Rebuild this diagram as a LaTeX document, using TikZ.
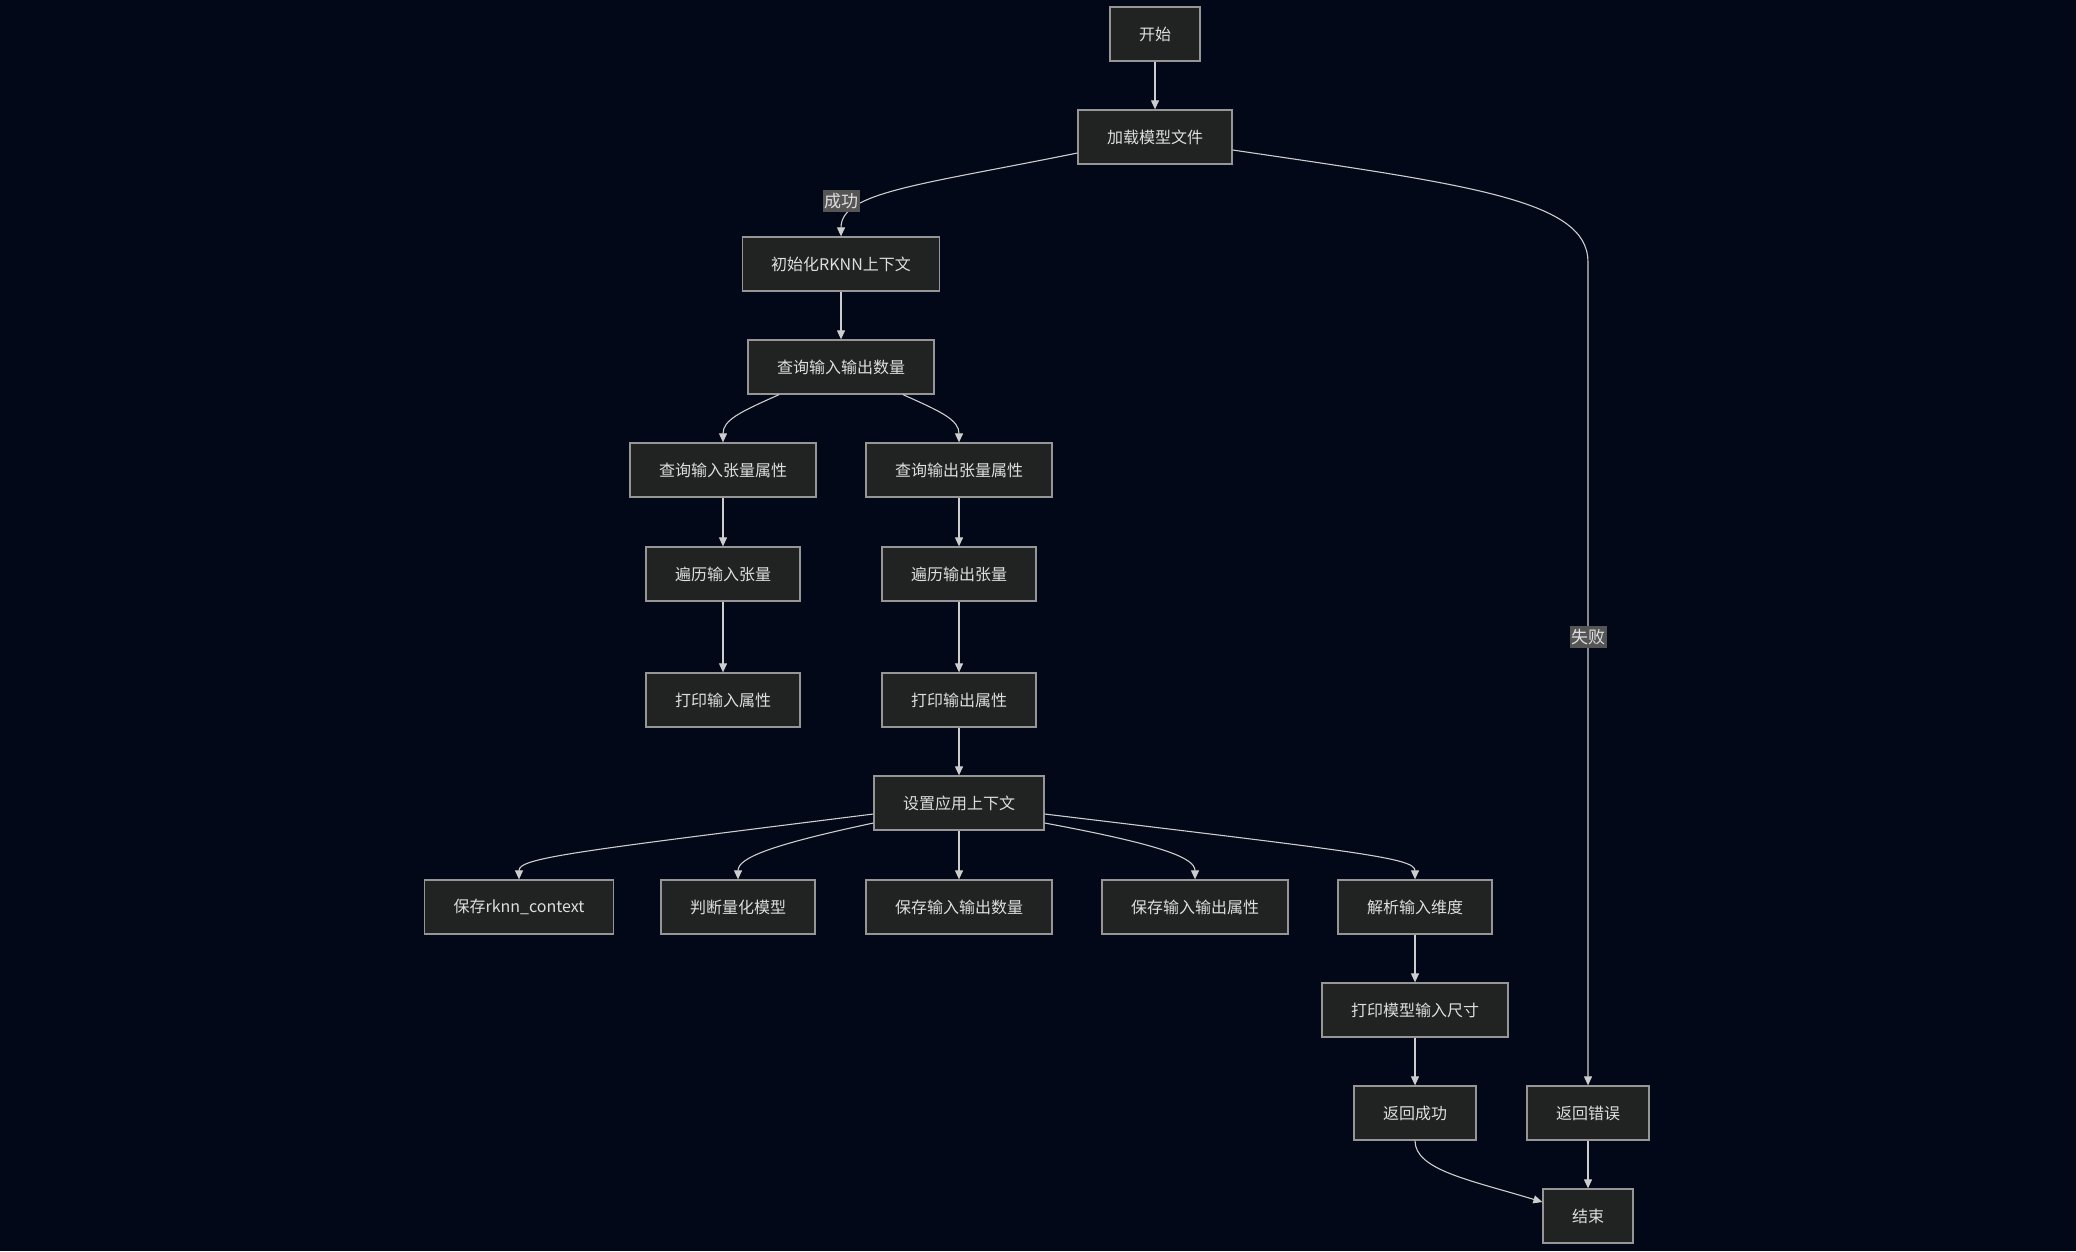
\documentclass[tikz,border=0pt]{standalone}
\usepackage{fontspec}
\setmainfont{Noto Sans CJK SC}
\usetikzlibrary{arrows.meta}
\definecolor{bgc}{RGB}{2,8,23}
\definecolor{boxfill}{RGB}{33,34,34}
\definecolor{boxline}{RGB}{150,150,150}
\definecolor{txtc}{RGB}{222,222,222}
\definecolor{edgec}{RGB}{205,205,205}
\definecolor{lblfill}{RGB}{85,85,85}
\tikzset{
  stepbox/.style={draw=boxline, fill=boxfill, line width=1.3pt, text=txtc,
    font=\fontsize{16}{18}\selectfont, minimum height=54pt, inner xsep=29pt, inner ysep=0pt},
  flow/.style={draw=edgec, line width=1.1pt, -{Triangle[length=9pt,width=8pt]}},
  elabel/.style={fill=lblfill, text=txtc, font=\fontsize{17}{19}\selectfont, inner xsep=1.5pt, inner ysep=3pt}
}
\begin{document}
\begin{tikzpicture}[x=1pt,y=-1pt]
\useasboundingbox[fill=bgc] (0,0) rectangle (2076,1251);
\node[stepbox] (start) at (1155,34) {开始};
\node[stepbox] (load) at (1155,137) {加载模型文件};
\node[stepbox] (init) at (841,264) {初始化RKNN上下文};
\node[stepbox] (qcount) at (841,367) {查询输入输出数量};
\node[stepbox] (qin) at (723,470) {查询输入张量属性};
\node[stepbox] (qout) at (959,470) {查询输出张量属性};
\node[stepbox] (tin) at (723,574) {遍历输入张量};
\node[stepbox] (tout) at (959,574) {遍历输出张量};
\node[stepbox] (pin) at (723,700) {打印输入属性};
\node[stepbox] (pout) at (959,700) {打印输出属性};
\node[stepbox] (setctx) at (959,803) {设置应用上下文};
\node[stepbox] (s1) at (519,907) {保存rknn\_context};
\node[stepbox] (s2) at (738,907) {判断量化模型};
\node[stepbox] (s3) at (959,907) {保存输入输出数量};
\node[stepbox] (s4) at (1195,907) {保存输入输出属性};
\node[stepbox] (s5) at (1415,907) {解析输入维度};
\node[stepbox] (psize) at (1415,1010) {打印模型输入尺寸};
\node[stepbox] (ok) at (1415,1113) {返回成功};
\node[stepbox] (err) at (1588,1113) {返回错误};
\node[stepbox] (fin) at (1588,1216) {结束};

\draw[flow] (start) -- (load);
\draw[flow] ([yshift=-16pt]load.west) .. controls (920,185) and (841,192) .. (init.north);
\node[elabel] (lok) at (841,201) {成功};
\draw[flow] ([yshift=-13pt]load.east) .. controls (1470,185) and (1588,200) .. (1588,262) -- (err.north);
\node[elabel] (lfail) at (1588,637) {失败};
\draw[flow] (init) -- (qcount);
\draw[flow] ([xshift=-62pt]qcount.south) .. controls (740,412) and (723,420) .. (qin.north);
\draw[flow] ([xshift=62pt]qcount.south) .. controls (942,412) and (959,420) .. (qout.north);
\draw[flow] (qin) -- (tin);
\draw[flow] (qout) -- (tout);
\draw[flow] (tin) -- (pin);
\draw[flow] (tout) -- (pout);
\draw[flow] (pout) -- (setctx);
\draw[flow] ([yshift=-11pt]setctx.west) .. controls (570,852) and (519,858) .. (s1.north);
\draw[flow] ([yshift=-20pt]setctx.west) .. controls (770,845) and (738,858) .. (s2.north);
\draw[flow] (setctx) -- (s3);
\draw[flow] ([yshift=-20pt]setctx.east) .. controls (1163,845) and (1195,858) .. (s4.north);
\draw[flow] ([yshift=-11pt]setctx.east) .. controls (1360,852) and (1415,858) .. (s5.north);
\draw[flow] (s5) -- (psize);
\draw[flow] (psize) -- (ok);
\draw[flow] (ok.south) .. controls (1415,1170) and (1470,1180) .. ([yshift=14pt]fin.west);
\draw[flow] (err) -- (fin);
\end{tikzpicture}
\end{document}
